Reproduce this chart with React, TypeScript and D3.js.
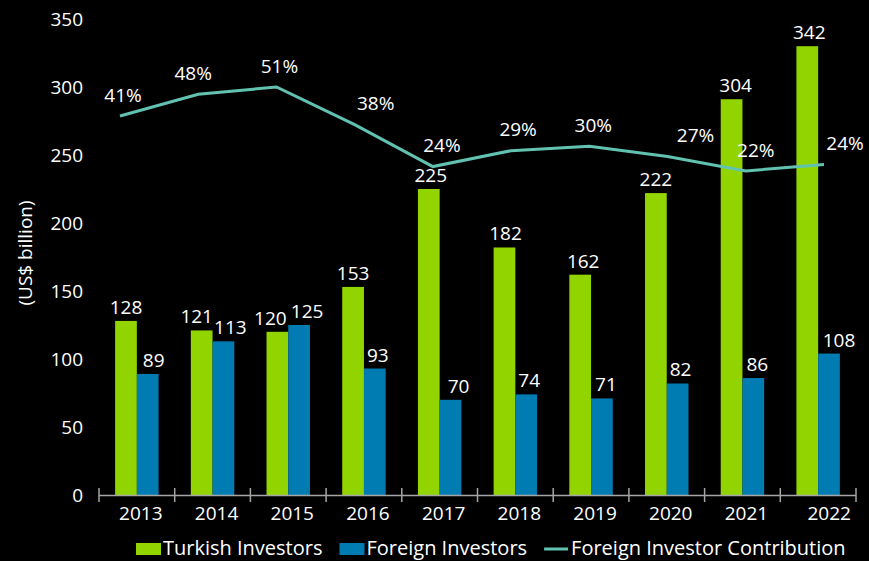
import { useEffect, useRef } from 'react'
import * as d3 from 'd3'

const years = ['2013', '2014', '2015', '2016', '2017', '2018', '2019', '2020', '2021', '2022']
// bar heights as drawn in the reference
const turkish = [128, 121, 120, 153, 225, 182, 162, 222, 291, 330]
const foreign = [89, 113, 125, 93, 70, 74, 71, 82, 86, 104]
// data labels as printed on the chart
const turkishLabels = ['128', '121', '120', '153', '225', '182', '162', '222', '304', '342']
const foreignLabels = ['89', '113', '125', '93', '70', '74', '71', '82', '86', '108']
// foreign investor share (secondary, hidden axis)
const contribution = [0.41, 0.485, 0.51, 0.38, 0.235, 0.29, 0.305, 0.27, 0.22, 0.242]
const contributionLabels = ['41%', '48%', '51%', '38%', '24%', '29%', '30%', '27%', '22%', '24%']
const yTicks = [0, 50, 100, 150, 200, 250, 300, 350]

// label nudges (px) copied from the placement in the reference
const turkishLabelDx = [0, -5, -7, 0, 2, 1, 3, 0, 4, 2]
const foreignLabelDx = [6, 7, 8, 3, 8, 3, 4, 3, 4, 10]
const pctLabelDx = [3, -5, 3, 21, 9, 7, 4, 28, 10, 21]

const W = 869
const H = 561
const FONT = '"Open Sans", "Noto Sans", sans-serif'
const GREEN = '#92d400'
const BLUE = '#007cb3'
const TEAL = '#62c2b1'

export default function App() {
  const svgRef = useRef<SVGSVGElement>(null)

  useEffect(() => {
    const svg = d3.select(svgRef.current)
    svg.selectAll('*').remove()

    const margin = { top: 19, right: 13, bottom: 66, left: 99 }
    const innerW = W - margin.left - margin.right
    const innerH = H - margin.top - margin.bottom

    svg.append('rect').attr('width', W).attr('height', H).attr('fill', '#000')

    const g = svg.append('g').attr('transform', `translate(${margin.left},${margin.top})`)

    const x = d3.scaleBand().domain(years).range([0, innerW]).padding(0)
    const y = d3.scaleLinear().domain([0, 350]).range([innerH, 0])
    // line sits on its own secondary axes in the original
    const xLine = d3.scalePoint().domain(years).range([21, 725])
    const yLine = d3.scaleLinear().domain([-0.9, 0.745]).range([innerH, 0])

    const bw = x.bandwidth() * 0.287

    // y tick labels
    yTicks.forEach(t => {
      g.append('text')
        .attr('x', -16)
        .attr('y', y(t))
        .attr('dy', '0.35em')
        .attr('text-anchor', 'end')
        .attr('font-size', 19)
        .attr('fill', '#fff')
        .text(t)
    })

    // y title
    svg.append('text')
      .attr('transform', `translate(32,253) rotate(-90)`)
      .attr('text-anchor', 'middle')
      .attr('font-size', 19)
      .attr('fill', '#fff')
      .text('(US$ billion)')

    // bars
    years.forEach((yr, i) => {
      const cx = x(yr)! + x.bandwidth() / 2
      g.append('rect')
        .attr('x', cx - bw).attr('y', y(turkish[i]))
        .attr('width', bw).attr('height', innerH - y(turkish[i]))
        .attr('fill', GREEN)
      g.append('rect')
        .attr('x', cx).attr('y', y(foreign[i]))
        .attr('width', bw).attr('height', innerH - y(foreign[i]))
        .attr('fill', BLUE)

      g.append('text')
        .attr('x', cx - bw / 2 + turkishLabelDx[i])
        .attr('y', y(turkish[i]) - 7)
        .attr('text-anchor', 'middle')
        .attr('font-size', 19)
        .attr('fill', '#fff')
        .text(turkishLabels[i])
      g.append('text')
        .attr('x', cx + bw / 2 + foreignLabelDx[i])
        .attr('y', y(foreign[i]) - 7)
        .attr('text-anchor', 'middle')
        .attr('font-size', 19)
        .attr('fill', '#fff')
        .text(foreignLabels[i])
    })

    // x axis
    g.append('line')
      .attr('x1', 0).attr('x2', innerW)
      .attr('y1', innerH + 0.5).attr('y2', innerH + 0.5)
      .attr('stroke', '#a6a6a6').attr('stroke-width', 1.5)
    const bounds = years.map(yr => x(yr)!).concat([innerW])
    bounds.forEach(b => {
      g.append('line')
        .attr('x1', b).attr('x2', b)
        .attr('y1', innerH - 7).attr('y2', innerH + 7)
        .attr('stroke', '#a6a6a6').attr('stroke-width', 1.5)
    })
    years.forEach((yr, i) => {
      g.append('text')
        .attr('x', x(yr)! + x.bandwidth() / 2 + (i === years.length - 1 ? 11 : 4))
        .attr('y', innerH + 25)
        .attr('text-anchor', 'middle')
        .attr('font-size', 19)
        .attr('fill', '#fff')
        .text(yr)
    })

    // contribution line
    const line = d3.line<number>()
      .x((_, i) => xLine(years[i])!)
      .y(d => yLine(d))
    g.append('path')
      .datum(contribution)
      .attr('d', line)
      .attr('fill', 'none')
      .attr('stroke', TEAL)
      .attr('stroke-width', 3)

    contribution.forEach((v, i) => {
      g.append('text')
        .attr('x', xLine(years[i])! + pctLabelDx[i])
        .attr('y', yLine(v) - 21)
        .attr('dy', '0.35em')
        .attr('text-anchor', 'middle')
        .attr('font-size', 19)
        .attr('fill', '#fff')
        .text(contributionLabels[i])
    })

    // legend
    const legend = svg.append('g').attr('transform', 'translate(136,548)')
    let lx = 0
    const items = [
      { label: 'Turkish Investors', color: GREEN, kind: 'rect' },
      { label: 'Foreign Investors', color: BLUE, kind: 'rect' },
      { label: 'Foreign Investor Contribution', color: TEAL, kind: 'line' },
    ]
    items.forEach(it => {
      if (it.kind === 'rect') {
        legend.append('rect')
          .attr('x', lx).attr('y', -5)
          .attr('width', 25).attr('height', 12)
          .attr('fill', it.color)
      } else {
        legend.append('line')
          .attr('x1', lx).attr('x2', lx + 24)
          .attr('y1', 1).attr('y2', 1)
          .attr('stroke', it.color).attr('stroke-width', 3)
      }
      const t = legend.append('text')
        .attr('x', lx + 27)
        .attr('y', 0)
        .attr('dy', '0.35em')
        .attr('font-size', 20)
        .attr('fill', '#fff')
        .text(it.label)
      const len = (t.node() as SVGTextElement).getComputedTextLength()
      lx += 27 + len + 17
    })
  }, [])

  return (
    <div style={{ position: 'absolute', left: 0, top: 0, fontFamily: FONT }}>
      <svg ref={svgRef} width={W} height={H} style={{ display: 'block', fontFamily: FONT }} />
    </div>
  )
}
